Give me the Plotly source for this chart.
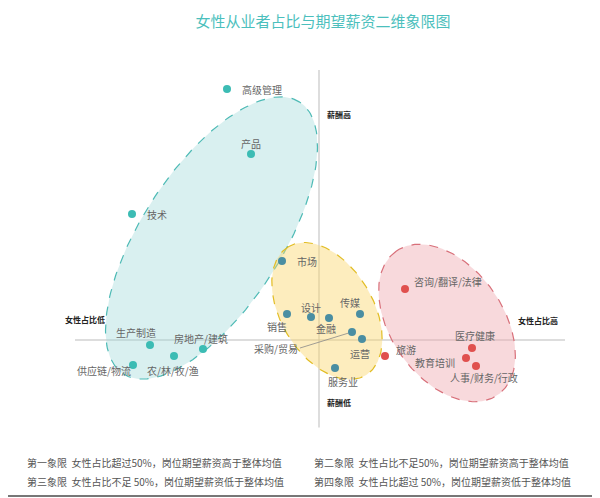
import numpy as np
import plotly.graph_objects as go

# 职位类别, 女性占比(%), 期望薪资相对整体均值(指数)
teal_jobs = ["高级管理", "产品", "技术", "生产制造", "房地产/建筑", "农/林/牧/渔", "供应链/物流"]
teal_female = [31.6, 36.4, 12.6, 16.2, 26.8, 21.0, 12.8]
teal_salary = [100.4, 74.4, 50.4, -2.0, -3.6, -6.4, -10.0]

mid_jobs = ["市场", "销售", "设计", "金融", "传媒", "采购/贸易", "运营", "服务业"]
mid_female = [42.6, 43.6, 48.4, 52.0, 58.2, 56.6, 58.6, 53.2]
mid_salary = [31.6, 10.4, 9.2, 8.8, 10.4, 3.2, 0.4, -11.2]

red_jobs = ["咨询/翻译/法律", "旅游", "医疗健康", "教育培训", "人事/财务/行政"]
red_female = [67.2, 63.2, 80.6, 79.4, 81.4]
red_salary = [20.4, -6.4, -3.2, -7.2, -10.4]

# label offsets (female, salary, anchor)
label_pos = {
    "高级管理": (34.2, 100.4, "left"), "产品": (36.4, 78.8, "center"),
    "技术": (15.2, 50.4, "left"), "生产制造": (13.4, 3.2, "center"),
    "房地产/建筑": (26.4, 0.6, "center"), "农/林/牧/渔": (20.8, -12.0, "center"),
    "供应链/物流": (7.0, -12.0, "center"), "市场": (45.2, 31.6, "left"),
    "销售": (41.6, 5.6, "center"), "设计": (48.4, 13.2, "center"),
    "金融": (51.4, 4.8, "center"), "传媒": (56.2, 15.2, "center"),
    "运营": (58.2, -5.2, "center"), "服务业": (54.8, -16.4, "center"),
    "咨询/翻译/法律": (68.6, 23.6, "left"), "旅游": (65.0, -3.6, "left"),
    "医疗健康": (81.2, 2.0, "center"), "教育培训": (77.6, -8.8, "right"),
    "人事/财务/行政": (83.0, -14.8, "center"),
}

PX_X, PX_Y = 5.0, 2.5  # pixels per data unit


def ellipse(cx, cy, a, b, ang):
    t = np.linspace(0, 2 * np.pi, 200)
    phi = np.radians(ang)
    dx = a * np.cos(t) * np.cos(phi) - b * np.sin(t) * np.sin(phi)
    dy = a * np.cos(t) * np.sin(phi) + b * np.sin(t) * np.cos(phi)
    return cx + dx / PX_X, cy + dy / PX_Y


fig = go.Figure()

groups = [
    (ellipse(28.5, 40.8, 162, 70, 57), "rgba(160,218,218,0.4)", "#4dbab5"),
    (ellipse(51.6, 11.6, 75, 46, 121), "rgba(250,215,110,0.45)", "#e2bd24"),
    (ellipse(75.6, 6.8, 88, 56, 125.3), "rgba(240,170,178,0.45)", "#d8707a"),
]
for (ex, ey), fill, line in groups:
    fig.add_trace(go.Scatter(x=ex, y=ey, mode="lines", fill="toself", fillcolor=fill,
                             line=dict(color=line, width=1.2, dash="dash"),
                             hoverinfo="skip", showlegend=False))

for xs, ys, names, col in [(teal_female, teal_salary, teal_jobs, "#3cbcb4"),
                           (mid_female, mid_salary, mid_jobs, "#4a8ea2"),
                           (red_female, red_salary, red_jobs, "#e0504e")]:
    fig.add_trace(go.Scatter(x=xs, y=ys, mode="markers", text=names,
                             marker=dict(size=8, color=col), showlegend=False))

fig.add_shape(type="line", x0=1.2, x1=99.2, y0=0, y1=0, line=dict(color="#bbbbbb", width=1), layer="below")
fig.add_shape(type="line", x0=50, x1=50, y0=-35, y1=108, line=dict(color="#bbbbbb", width=1), layer="below")

lab_font = dict(family="Noto Sans CJK SC", size=10, color="#666666")
for name, (lx, ly, anc) in label_pos.items():
    fig.add_annotation(x=lx, y=ly, text=name, showarrow=False, xanchor=anc, font=lab_font)

# 采购/贸易 with connector
fig.add_annotation(x=56.6, y=3.2, ax=46.2, ay=-3.2, axref="x", ayref="y", text="采购/贸易",
                   showarrow=True, arrowhead=0, arrowwidth=0.8, arrowcolor="#888888",
                   standoff=4, font=lab_font, xanchor="right")

bold_font = dict(family="Noto Sans CJK SC", size=8, color="#222222")
for txt, lx, ly in [("薪酬高", 54, 90.4), ("薪酬低", 54, -24.8),
                    ("女性占比低", 3.2, 8.4), ("女性占比高", 93.8, 8.0)]:
    fig.add_annotation(x=lx, y=ly, text="<b>" + txt + "</b>", showarrow=False, font=bold_font)

notes = [
    ("第一象限  女性占比超过50%，岗位期望薪资高于整体均值", 25, 462),
    ("第二象限  女性占比不足50%，岗位期望薪资高于整体均值", 312, 462),
    ("第三象限  女性占比不足 50%，岗位期望薪资低于整体均值", 25, 481),
    ("第四象限  女性占比超过 50%，岗位期望薪资低于整体均值", 312, 481),
]
for txt, px, py in notes:
    fig.add_annotation(xref="paper", yref="paper", x=(px - 69) / 500, y=(440 - py) / 375,
                       text=txt, showarrow=False, xanchor="left", yanchor="middle",
                       font=dict(family="Noto Sans CJK SC", size=10, color="#555555"))

fig.add_shape(type="line", xref="paper", yref="paper", x0=-0.2, x1=1.1,
              y0=(440 - 496) / 375, y1=(440 - 496) / 375, line=dict(color="#777777", width=2))

fig.update_layout(
    width=600, height=498,
    margin=dict(l=61, r=39, t=57, b=66),
    paper_bgcolor="white", plot_bgcolor="white",
    title=dict(text="女性从业者占比与期望薪资二维象限图", x=0.525, y=0.972,
               xanchor="center", yanchor="middle",
               font=dict(family="Noto Sans CJK SC", size=15, color="#4cbfbd")),
    xaxis=dict(range=[0, 100], visible=False),
    yaxis=dict(range=[-40, 110], visible=False),
)

fig.write_html("out.html")
